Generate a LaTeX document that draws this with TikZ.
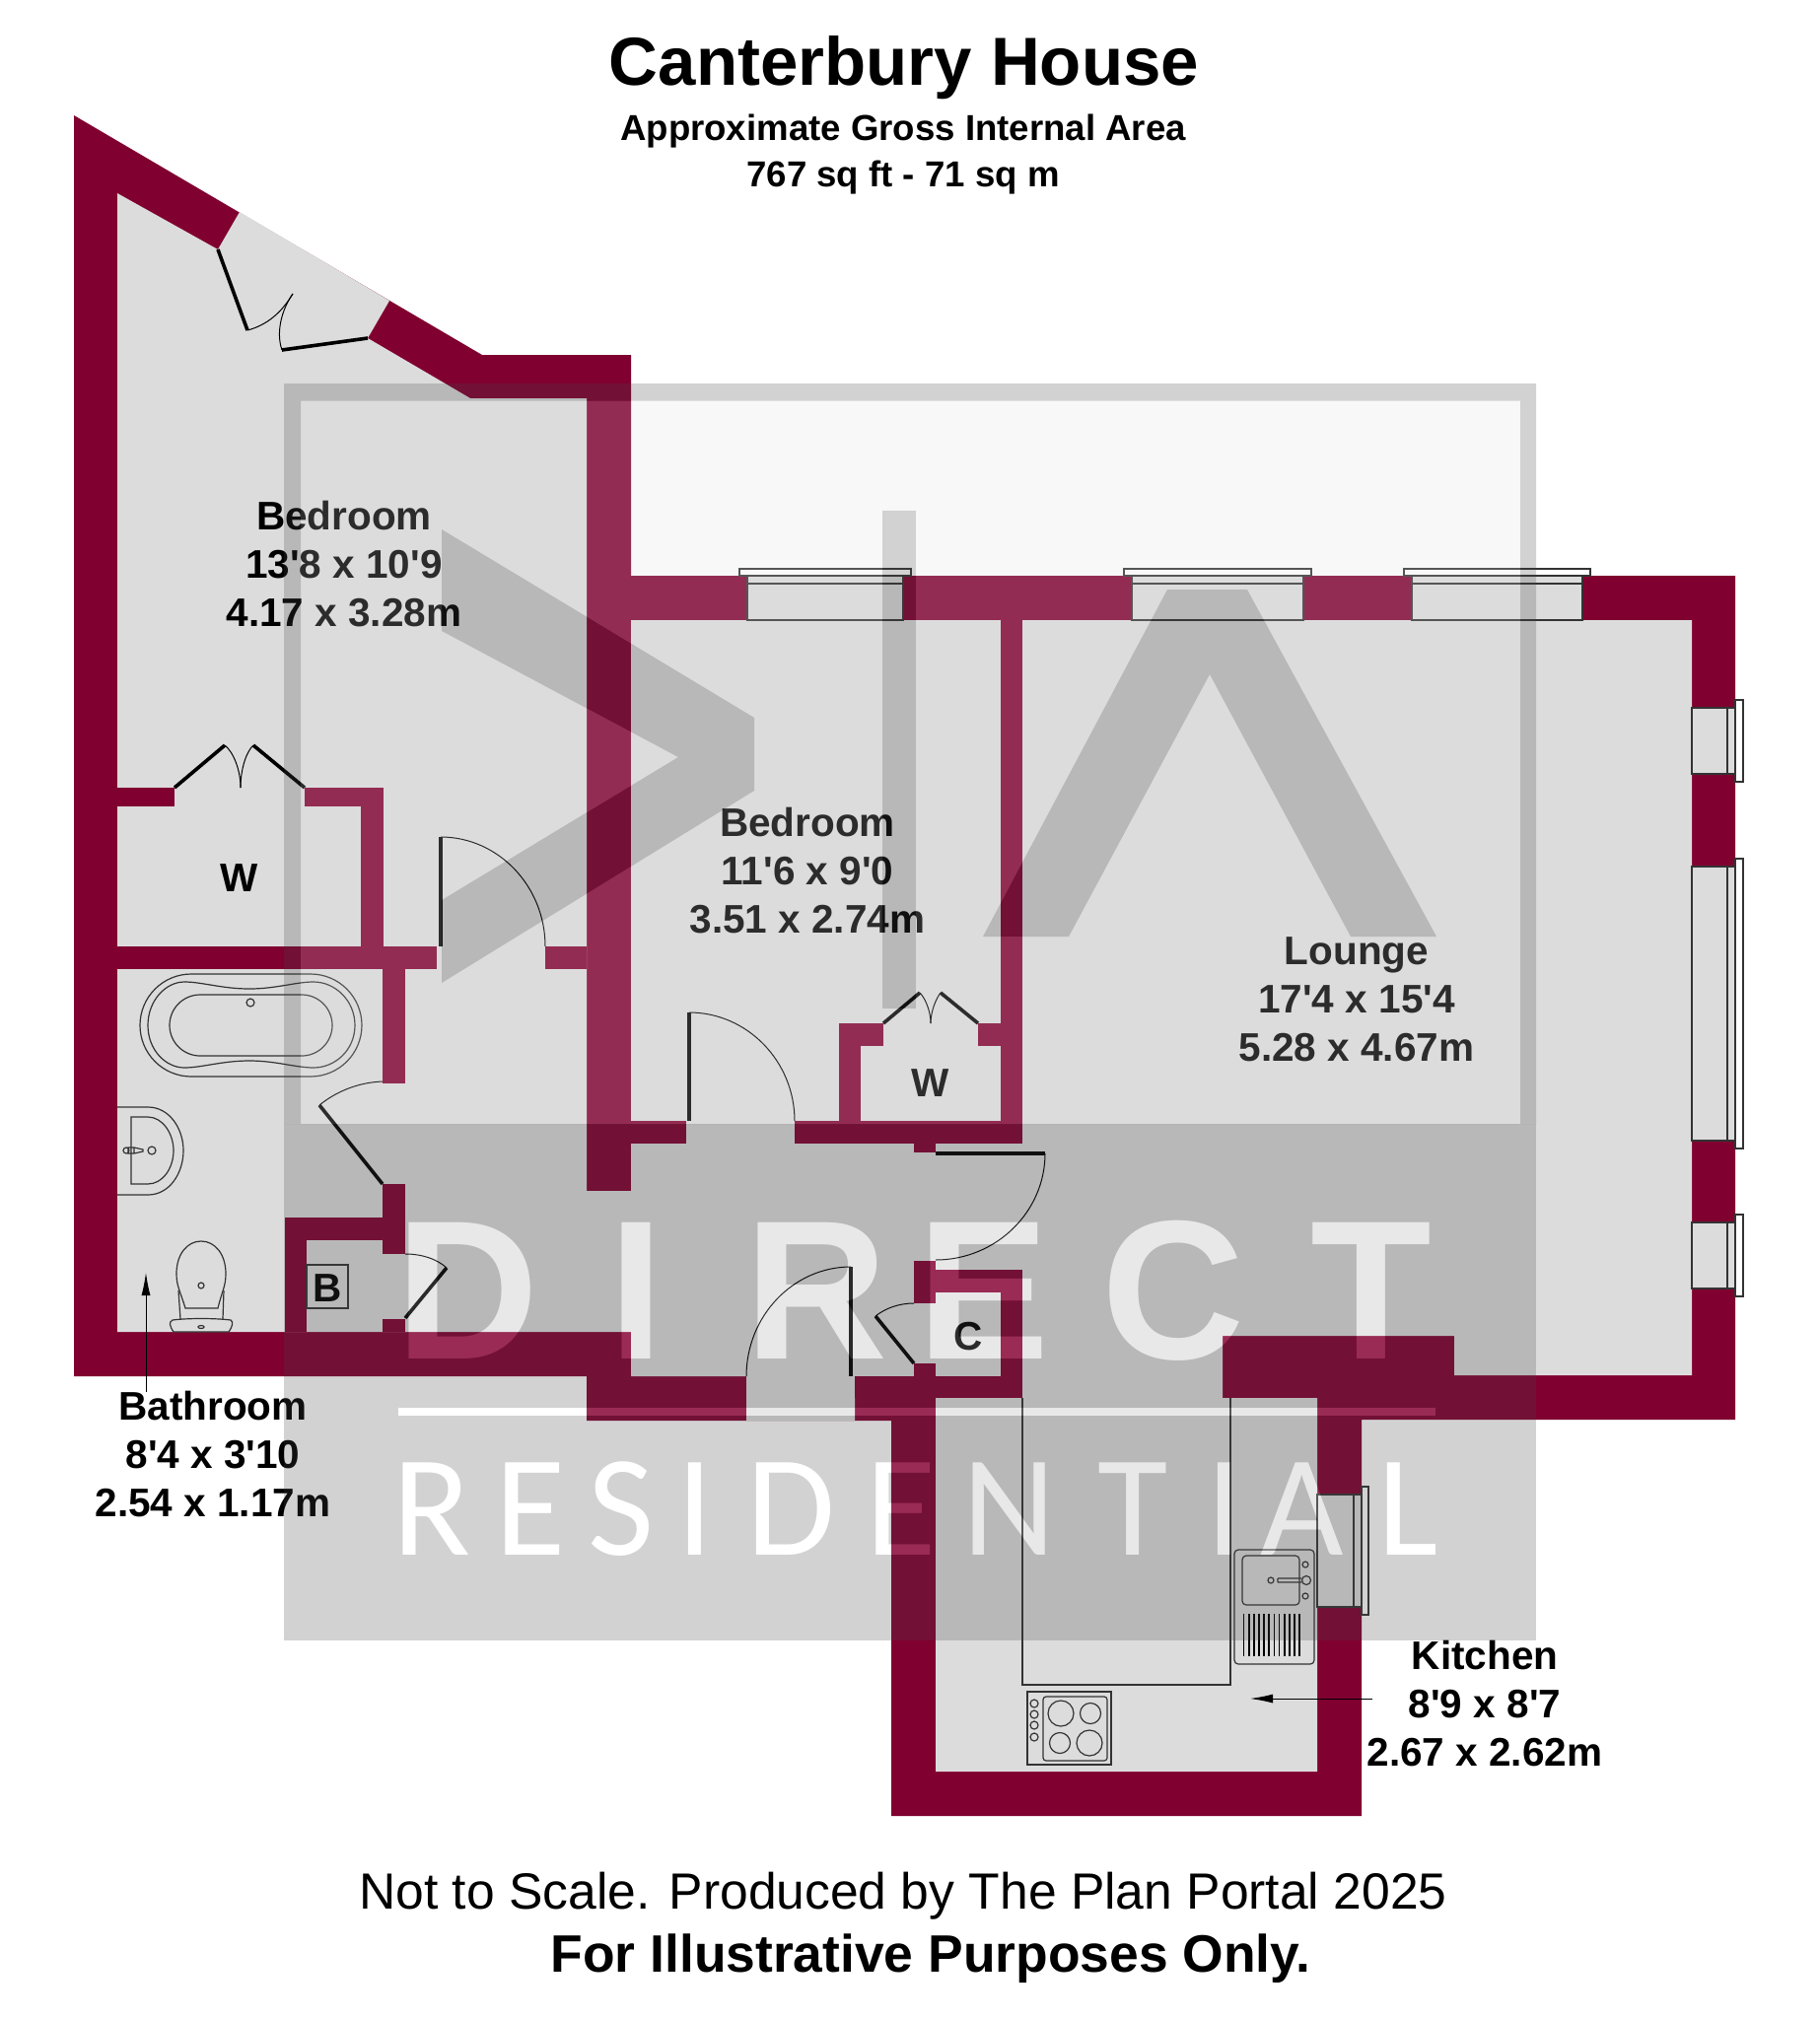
\documentclass[tikz,border=0pt]{standalone}
\usepackage{fontspec}
\setmainfont{Liberation Sans}[Ligatures=TeXOff]
\newfontfamily\markfont{Carlito}
\usetikzlibrary{calc,arrows.meta}
\definecolor{wallred}{HTML}{800030}
\definecolor{floorgrey}{HTML}{DCDCDC}
\definecolor{linegrey}{HTML}{333333}
\definecolor{markdark}{HTML}{464646}
\definecolor{markpale}{HTML}{E0E0E0}
\newcommand{\directrow}{D/474,I/645,R/828,E/998,C/1190,T/1391}
\newcommand{\residentialrow}{R/438,E/538,S/630,I/705,D/802,E/914,N/1024,T/1149,I/1242,A/1321,L/1428}
\tikzset{
  wall/.style={fill=wallred},
  floorarea/.style={fill=floorgrey},
  fitting/.style={draw=linegrey,line width=1.2pt},
  pane/.style={draw=linegrey,line width=1.2pt,fill=floorgrey},
  sill/.style={draw=linegrey,line width=1.2pt,fill=white},
  leaf/.style={draw=black,line width=3.6pt},
  swing/.style={draw=black,line width=1pt},
  roomlabel/.style={font=\bfseries\fontsize{40.5}{49}\selectfont,align=center,inner sep=0pt},
  headline/.style={font=\bfseries\fontsize{69}{80}\selectfont,inner sep=0pt},
  subline/.style={font=\bfseries\fontsize{36.6}{47}\selectfont,align=center,inner sep=0pt},
  footline/.style={font=\fontsize{51.6}{60}\selectfont,inner sep=0pt},
  pointer/.style={draw=black,line width=1pt,-{Latex[length=23pt,width=9pt]}},
  markblock/.style={fill=markdark,fill opacity=.24},
  markinner/.style={fill=markpale,fill opacity=.2},
  directstyle/.style={font=\bfseries\fontsize{201}{201}\selectfont,anchor=base,inner sep=0pt},
  residentialstyle/.style={font=\markfont\fontsize{146}{146}\selectfont,anchor=base,inner sep=0pt},
}
\newcommand{\hingedoor}[3]{
  \draw[leaf] (#1) -- (#2);
  \draw[swing] (#2) .. controls ($(#2)+0.55*(#3)-0.55*(#1)$) and ($(#3)+0.55*(#2)-0.55*(#1)$) .. (#3);
}
\newcommand{\markletters}[2]{
  \foreach \ch/\cx [count=\i] in \directrow
    \node[directstyle,text=#1,text opacity=#2] (direct#1\i) at (\cx,1378) {\ch};
  \foreach \ch/\cx [count=\i] in \residentialrow
    \node[residentialstyle,text=#1,text opacity=#2] (residential#1\i) at (\cx,1577) {\ch};
  \fill[#1,fill opacity=#2] (404,1428) rectangle (1456,1436);
}
\begin{document}
\begin{tikzpicture}[x=1pt,y=-1pt]
\useasboundingbox (0,0) rectangle (1846,2048);
\fill[white] (0,0) rectangle (1846,2048);
\fill[wall] (75,117) -- (489,360) -- (640,360) -- (640,584) -- (1760,584) -- (1760,1440) -- (1381,1440) -- (1381,1842) -- (904,1842) -- (904,1441) -- (595,1441) -- (595,1396) -- (75,1396) -- cycle;
\fill[floorarea] (119,196) -- (221,253) -- (243,215) -- (395,305) -- (373,343) -- (477,404) -- (595,404) -- (595,1208) -- (640,1208) -- (640,629) -- (1716,629) -- (1716,1395) -- (1475,1395) -- (1475,1355) -- (1240,1355) -- (1240,1418) -- (1336,1418) -- (1336,1797) -- (949,1797) -- (949,1396) -- (867,1396) -- (867,1441) -- (757,1441) -- (757,1396) -- (640,1396) -- (640,1351) -- (119,1351) -- cycle;
\foreach \xa/\ya/\xb/\yb in {119/799/177/818,309/799/389/818,366/799/389/960,119/960/443/983,553/960/595/983,388/983/411/1099,388/1201/411/1272,289/1235/388/1258,289/1235/311/1351,388/1338/411/1351,640/1137/696/1160,806/1137/1037/1160,927/1160/949/1169,1015/629/1037/1160,851/1038/873/1137,851/1038/896/1061,992/1038/1037/1061,949/1288/1037/1311,1015/1288/1037/1396,927/1279/949/1322,927/1383/949/1396,867/1396/1037/1418}
  \fill[wall] (\xa,\ya) rectangle (\xb,\yb);

\foreach \xa/\xb in {758/916,1148/1322,1432/1605}{
  \draw[pane] (\xa,584) rectangle (\xb,629);
  \draw[fitting] (\xa,592) -- (\xb,592);
  \draw[sill] (\xa-8,577) rectangle (\xb+8,584);
}
\foreach \ya/\yb in {718/785,879/1157,1240/1307}{
  \draw[pane] (1716,\ya) rectangle (1760,\yb);
  \draw[fitting] (1752,\ya) -- (1752,\yb);
  \draw[sill] (1760,\ya-8) rectangle (1768,\yb+8);
}
\draw[pane] (1336,1516) rectangle (1381,1630);
\draw[fitting] (1373,1516) -- (1373,1630);
\draw[sill] (1381,1508) rectangle (1388,1638);

\hingedoor{447,960}{447,849}{553,960}
\hingedoor{699,1137}{699,1027}{806,1137}
\hingedoor{949,1170}{1060,1170}{949,1278}
\hingedoor{863,1396}{863,1285}{757,1396}
\draw[leaf] (388,1201) -- (324,1121);
\draw[swing] (324,1121) .. controls (340,1108) and (362,1098) .. (388,1097);
\draw[leaf] (411,1337) -- (453,1286);
\draw[swing] (453,1286) .. controls (443,1277) and (428,1272) .. (411,1272);
\draw[leaf] (927,1383) -- (888,1335);
\draw[swing] (888,1335) .. controls (898,1327) and (912,1322) .. (927,1322);
\draw[leaf] (221,253) -- (251,335);
\draw[leaf] (373,343) -- (286,355);
\draw[swing] (251,335) .. controls (270,330) and (285,318) .. (297,298);
\draw[swing] (286,355) .. controls (280,338) and (285,315) .. (297,298);
\draw[leaf] (177,799) -- (228,756);
\draw[leaf] (257,756) -- (309,799);
\draw[swing] (228,756) .. controls (236,762) and (244,780) .. (244,799);
\draw[swing] (257,756) .. controls (250,762) and (244,780) .. (244,799);
\draw[leaf] (896,1038) -- (933,1007);
\draw[leaf] (954,1007) -- (992,1038);
\draw[swing] (933,1007) .. controls (938,1012) and (944,1025) .. (944,1038);
\draw[swing] (954,1007) .. controls (950,1012) and (944,1025) .. (944,1038);

\draw[fitting,rounded corners=52pt] (142,988) rectangle (367,1092);
\draw[fitting] (150,1040) .. controls (150,1015) and (168,996) .. (187,996) .. controls (205,996) and (225,1003) .. (253,1003) .. controls (280,1003) and (300,996) .. (318,996) .. controls (340,996) and (360,1015) .. (360,1040) .. controls (360,1065) and (340,1083) .. (318,1083) .. controls (300,1083) and (280,1076) .. (253,1076) .. controls (225,1076) and (205,1083) .. (187,1083) .. controls (168,1083) and (150,1065) .. (150,1040) -- cycle;
\draw[fitting,rounded corners=31pt] (172,1009) rectangle (337,1071);
\draw[fitting] (254,1017) circle[radius=4pt];
\draw[fitting] (119,1123) -- (150,1123) .. controls (172,1123) and (186,1145) .. (186,1167) .. controls (186,1190) and (172,1212) .. (150,1212) -- (119,1212);
\draw[fitting] (133,1133) -- (150,1133) .. controls (165,1133) and (176,1150) .. (176,1167) .. controls (176,1185) and (165,1201) .. (150,1201) -- (133,1201) -- cycle;
\draw[fitting] (128,1167) circle[radius=3pt] (130,1164) rectangle (136,1170) (136,1164) -- (145,1166) -- (145,1168) -- (136,1170) (154,1167) circle[radius=4pt];
\draw[fitting] (188,1327) .. controls (183,1310) and (179,1305) .. (179,1292) .. controls (179,1272) and (190,1259) .. (204,1259) .. controls (218,1259) and (229,1272) .. (229,1292) .. controls (229,1305) and (225,1310) .. (221,1327) -- cycle;
\draw[fitting] (181,1309) -- (183,1338) (227,1309) -- (226,1338) (204,1304) circle[radius=3pt];
\draw[fitting] (176,1351) .. controls (172,1345) and (171,1341) .. (175,1339) .. controls (190,1337) and (218,1337) .. (234,1339) .. controls (237,1341) and (236,1345) .. (232,1351) -- cycle;
\draw[fitting] (204,1346) circle[x radius=3pt,y radius=1.5pt];

\draw[fitting] (1037,1418) -- (1037,1709) -- (1248,1709) -- (1248,1418);
\draw[fitting,rounded corners=4pt] (1252,1572) rectangle (1333,1688);
\draw[fitting,rounded corners=4pt] (1260,1578) rectangle (1318,1628);
\draw[fitting] (1289,1603) circle[radius=3pt] (1296,1601) -- (1320,1601) (1296,1605) -- (1320,1605) (1296,1601) -- (1296,1605) (1325,1603) circle[radius=4.5pt] (1324,1587) circle[radius=3pt] (1324,1619) circle[radius=3pt];
\foreach \nr in {0,...,11}
  \draw[draw=black,line width=1.7pt] (1261.5+\nr*5.15,1637) -- (1261.5+\nr*5.15,1680);
\draw[fitting] (1042,1716) rectangle (1127,1790);
\draw[fitting,rounded corners=3pt] (1058,1721) rectangle (1123,1786);
\draw[fitting] (1076,1738) circle[radius=13pt] (1106,1738) circle[radius=10.5pt] (1075,1768) circle[radius=10.5pt] (1105,1768) circle[radius=13pt];
\foreach \ky in {1728,1739,1750,1762}
  \draw[fitting] (1049,\ky) circle[radius=4pt];
\draw[fitting] (311,1283) rectangle (353,1327);

\node[headline] (title) at (917,69) {Canterbury House};
\node[subline] (area) at (916,157) {Approximate Gross Internal Area\\767 sq ft - 71 sq m};
\node[roomlabel] (bedrooma) at (349,572) {Bedroom\\13'8 x 10'9\\4.17 x 3.28m};
\node[roomlabel] (bedroomb) at (819,883) {Bedroom\\11'6 x 9'0\\3.51 x 2.74m};
\node[roomlabel] (lounge) at (1376,1014) {Lounge\\17'4 x 15'4\\5.28 x 4.67m};
\node[roomlabel] (bathroom) at (216,1475) {Bathroom\\8'4 x 3'10\\2.54 x 1.17m};
\node[roomlabel] (kitchen) at (1506,1728) {Kitchen\\8'9 x 8'7\\2.67 x 2.62m};
\node[roomlabel] (wardrobea) at (243,891) {W};
\node[roomlabel] (wardrobeb) at (944,1099) {W};
\node[roomlabel] (cupboardc) at (982,1356) {C};
\node[roomlabel] (boilerb) at (332,1307) {B};
\node[footline] (scale) at (916,1923) {Not to Scale. Produced by The Plan Portal 2025};
\node[footline,font=\bfseries\fontsize{53.4}{60}\selectfont] (purpose) at (944,1987) {For Illustrative Purposes Only.};

\coordinate (bathtail) at (148,1412);
\coordinate (bathtip) at (148,1291);
\coordinate (kitchentail) at (1392,1723);
\coordinate (kitchentip) at (1268,1723);
\draw[pointer] (bathtail) -- (bathtip);
\draw[pointer] (kitchentail) -- (kitchentip);

\fill[markinner,even odd rule] (305,406.5) rectangle (1542,1140)
  (448,537) -- (765,728) -- (765,802) -- (448,997) -- (448,913) -- (688,768) -- (448,640) -- cycle
  (895,518) rectangle (929,1023)
  (1184,598) -- (1265,598) -- (1457,950) -- (1370,950) -- (1227,684) -- (1084,950) -- (997,950) -- cycle;
\fill[markblock,even odd rule] (288,389) rectangle (1558,1140) (305,406.5) rectangle (1542,1140);
\fill[markblock] (448,537) -- (765,728) -- (765,802) -- (448,997) -- (448,913) -- (688,768) -- (448,640) -- cycle;
\fill[markblock] (895,518) rectangle (929,1023);
\fill[markblock] (1184,598) -- (1265,598) -- (1457,950) -- (1370,950) -- (1227,684) -- (1084,950) -- (997,950) -- cycle;
\fill[markblock] (288,1140) rectangle (1558,1664);
\begin{scope}[blend mode=color dodge]
\definecolor{dodgegrey}{gray}{.2}
\markletters{dodgegrey}{1}
\end{scope}
\markletters{white}{.1}
\end{tikzpicture}
\end{document}
